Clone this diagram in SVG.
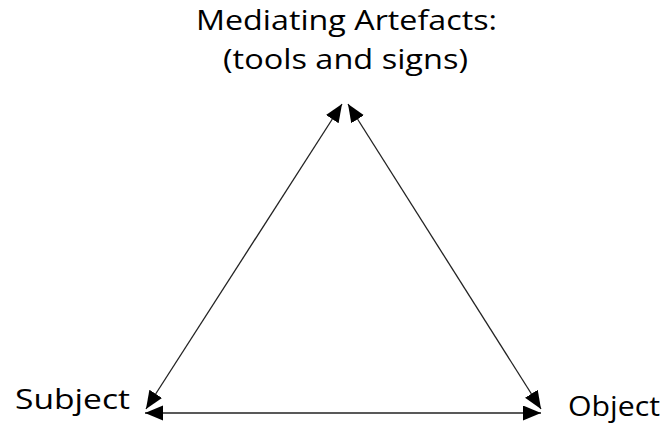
<svg xmlns="http://www.w3.org/2000/svg" width="667" height="423" viewBox="0 0 667 423">
<defs>
<style>
.lbl{font-family:"Open Sans","Liberation Sans",sans-serif;font-size:27px;font-weight:500;fill:#000}
.edge{stroke:#222;stroke-width:1.3;fill:none;marker-start:url(#ah);marker-end:url(#ah)}
</style>
<marker id="ah" markerUnits="userSpaceOnUse" markerWidth="20" markerHeight="16" refX="18" refY="7.5" orient="auto-start-reverse">
<path d="M0,0 L18,7.5 L0,15 z" fill="#000"/>
</marker>
</defs>
<rect width="667" height="423" fill="#fff"/>
<g id="connectors">
<line class="edge" x1="146" y1="409" x2="342" y2="104"/>
<line class="edge" x1="348" y1="104" x2="541" y2="409"/>
<line class="edge" x1="145" y1="413" x2="541" y2="413"/>
</g>
<g id="mediating">
<text class="lbl" x="196" y="30" textLength="301" lengthAdjust="spacingAndGlyphs">Mediating Artefacts:</text>
<text class="lbl" x="223" y="69" textLength="245" lengthAdjust="spacingAndGlyphs">(tools and signs)</text>
</g>
<g id="subject"><text class="lbl" x="15" y="409" textLength="115" lengthAdjust="spacingAndGlyphs">Subject</text></g>
<g id="object"><text class="lbl" x="568" y="416" textLength="92" lengthAdjust="spacingAndGlyphs">Object</text></g>
</svg>
